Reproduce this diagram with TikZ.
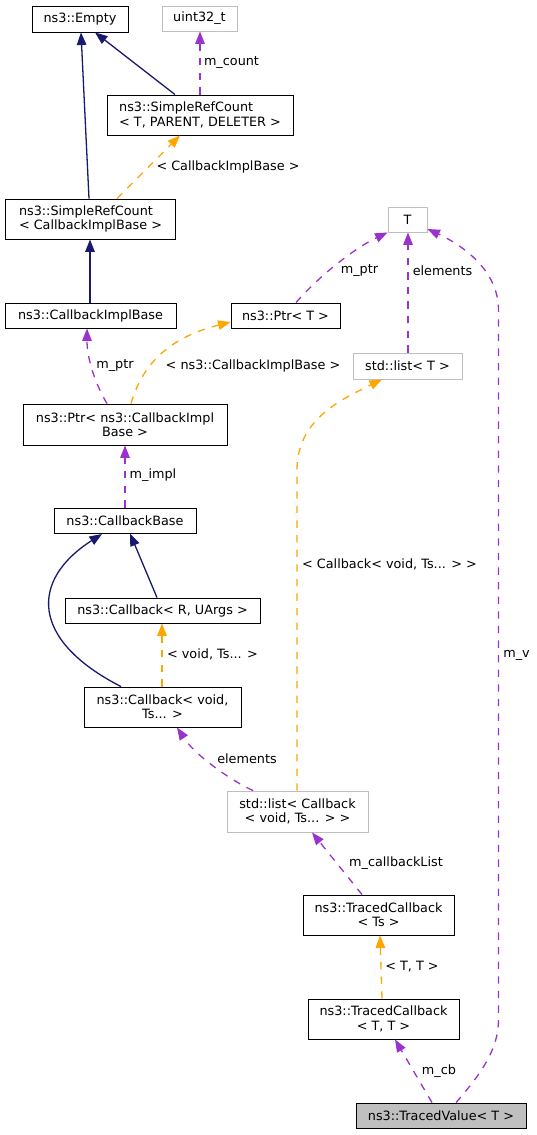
\documentclass[tikz,border=0pt]{standalone}
\usepackage{fontspec}
\setmainfont{DejaVu Sans}
\usetikzlibrary{arrows.meta}
\definecolor{inh}{HTML}{191970}
\definecolor{use}{HTML}{9A32CD}
\definecolor{tpl}{HTML}{FFA500}
\definecolor{grey75}{HTML}{BFBFBF}
\begin{document}
\begin{tikzpicture}[x=1pt,y=-1pt,
  every node/.style={font=\fontsize{12.8}{14.4}\selectfont, inner sep=0pt},
  cls/.style={draw=black, line width=0.9pt, fill=white, align=center},
  ucls/.style={draw=grey75, line width=0.9pt, fill=white, align=center},
  maincls/.style={draw=black, line width=0.9pt, fill=grey75, align=center},
  conn/.style={line width=1.3pt, -{Triangle[length=12.5pt,width=9.5pt]}},
  inhedge/.style={conn, color=inh},
  useedge/.style={conn, color=use, dash pattern=on 7.3pt off 7.3pt},
  tpledge/.style={conn, color=tpl, dash pattern=on 7.3pt off 7.3pt},
  lbl/.style={fill=none}
]
\useasboundingbox (0,0) rectangle (537,1135);
% nodes
\node[cls, minimum width=96pt, minimum height=26pt] (empty) at (80,19) {ns3::Empty};
\node[ucls, minimum width=75pt, minimum height=25pt] (uint) at (199.5,18.5) {uint32\_t};
\node[cls, minimum width=186pt, minimum height=40pt, align=left] (srcT) at (200,115) {ns3::SimpleRefCount\\< T, PARENT, DELETER >};
\node[cls, minimum width=170pt, minimum height=40pt, align=left] (srcC) at (90.5,219) {ns3::SimpleRefCount\\< CallbackImplBase >};
\node[cls, minimum width=171pt, minimum height=25pt] (cib) at (90.5,315.5) {ns3::CallbackImplBase};
\node[cls, minimum width=109pt, minimum height=25pt] (ptrT) at (285.5,315.5) {ns3::Ptr< T >};
\node[ucls, minimum width=39pt, minimum height=25pt] (T) at (407.5,219.5) {T};
\node[ucls, minimum width=109pt, minimum height=26pt] (listT) at (407.5,366) {std::list< T >};
\node[cls, minimum width=204pt, minimum height=41pt] (ptrC) at (125,424.5) {ns3::Ptr< ns3::CallbackImpl\\Base >};
\node[cls, minimum width=142pt, minimum height=25pt] (cbb) at (125,520.5) {ns3::CallbackBase};
\node[cls, minimum width=195pt, minimum height=25pt] (cbR) at (162.5,610.5) {ns3::Callback< R, UArgs >};
\node[cls, minimum width=157pt, minimum height=40pt] (cbV) at (162.5,707) {ns3::Callback< void,\\Ts... >};
\node[ucls, minimum width=141pt, minimum height=41pt] (listC) at (297.5,811.5) {std::list< Callback\\< void, Ts... > >};
\node[cls, minimum width=151pt, minimum height=40pt] (tcTs) at (378.5,915) {ns3::TracedCallback\\< Ts >};
\node[cls, minimum width=151pt, minimum height=40pt] (tcTT) at (383.5,1019) {ns3::TracedCallback\\< T, T >};
\node[maincls, minimum width=170pt, minimum height=25pt] (tv) at (441,1115.5) {ns3::TracedValue< T >};

% edges
\draw[inhedge] (srcT.north -| 175,0) -- (empty.south -| 95,0);
\draw[inhedge] (srcC.north -| 89,0) -- (empty.south -| 81,0);
\draw[useedge] (srcT.north -| 200,0) -- (uint.south -| 200,0);
\node[lbl] (lmcount) at (231.5,63) {m\_count};
\draw[tpledge] (srcC.north -| 117,0) -- (srcT.south -| 180,0);
\node[lbl] (lcib) at (228,167) {< CallbackImplBase >};
\draw[inhedge] (cib.north -| 90,0) -- (srcC.south -| 90,0);
\draw[useedge] (ptrC.north -| 107,0) .. controls (96,385) and (87,360) .. (cib.south -| 87,0);
\node[lbl] (lmptr1) at (115,366) {m\_ptr};
\draw[tpledge] (ptrC.north -| 131,0) .. controls (145,355) and (180,335) .. (ptrT.west |- 0,322);
\node[lbl] (lncib) at (253,366) {< ns3::CallbackImplBase >};
\draw[useedge] (ptrT.north -| 296,0) .. controls (320,275) and (355,248) .. (T.south west);
\node[lbl] (lmptr2) at (359.5,271) {m\_ptr};
\draw[useedge] (listT.north -| 408,0) -- (T.south -| 408,0);
\node[lbl] (lel1) at (442.5,271) {elements};
\draw[useedge] (tv.north -| 456,0) .. controls (480,1075) and (498.5,1050) .. (498.5,1020) -- (498.5,310) .. controls (498.5,270) and (462,245) .. (T.south east |- 0,229);
\node[lbl] (lmv) at (516.5,655) {m\_v};
\draw[useedge] (cbb.north -| 125,0) -- (ptrC.south -| 125,0);
\node[lbl] (lmimpl) at (153,475) {m\_impl};
\draw[inhedge] (cbR.north -| 157,0) -- (cbb.south -| 130,0);
\draw[inhedge] (cbV.north -| 121,0) .. controls (30,640) and (30,580) .. (102,534);
\draw[tpledge] (cbV.north -| 162,0) -- (cbR.south -| 162,0);
\node[lbl] (lvts) at (212.5,654) {< void, Ts... >};
\draw[useedge] (listC.north -| 253,0) .. controls (230,780) and (195,755) .. (cbV.south -| 177,0);
\node[lbl] (lel2) at (247,759) {elements};
\draw[tpledge] (listC.north -| 297,0) -- (297,470) .. controls (297,420) and (340,400) .. (listT.south -| 382,0);
\node[lbl] (lcbv) at (389.5,564) {< Callback< void, Ts... > >};
\draw[useedge] (tcTs.north -| 362,0) -- (listC.south -| 312,0);
\node[lbl] (lmcbl) at (396,863) {m\_callbackList};
\draw[tpledge] (tcTT.north -| 382,0) -- (tcTs.south -| 380,0);
\node[lbl] (ltt) at (412,967) {< T, T >};
\draw[useedge] (tv.north -| 432,0) -- (tcTT.south -| 395,0);
\node[lbl] (lmcb) at (439,1071) {m\_cb};
\end{tikzpicture}
\end{document}
